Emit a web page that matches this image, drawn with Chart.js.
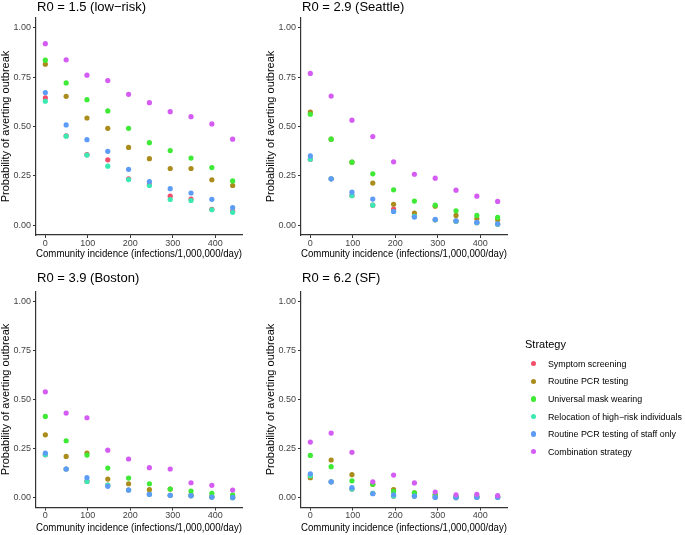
<!DOCTYPE html>
<html lang="en">
<head>
<meta charset="UTF-8">
<title>Probability of averting outbreak</title>
<style>
  body { margin: 0; background: #fff; font-family: "Liberation Sans", Arial, sans-serif; }
  #wrap { position: relative; width: 685px; height: 535px; overflow: hidden; }
  .panel { position: absolute; }
  .panel canvas { display: block; }
  #legendTitle { position: absolute; left: 525px; top: 338px; font-size: 11px; line-height: 13px; color: #000; }
  .item { position: absolute; left: 530.5px; height: 17.6px; display: flex; align-items: center; white-space: nowrap; font-size: 8.9px; color: #000; }
  .dot { width: 5.4px; height: 5.4px; border-radius: 50%; margin-right: 12px; }
</style>
</head>
<body>
<div id="wrap">
  <div class="panel" style="left:0;top:0"><canvas id="c1" width="262" height="260"></canvas></div>
  <div class="panel" style="left:265px;top:0"><canvas id="c2" width="262" height="260"></canvas></div>
  <div class="panel" style="left:0;top:265px"><canvas id="c3" width="262" height="270"></canvas></div>
  <div class="panel" style="left:265px;top:265px"><canvas id="c4" width="262" height="270"></canvas></div>
  <div id="legendTitle">Strategy</div>
  <div id="legend"></div>
</div>
<script src="https://cdn.jsdelivr.net/npm/chart.js"></script>
<script>
// community incidence (infections/1,000,000/day)
const incidence = [0, 49, 98, 147, 196, 245, 294, 343, 392, 441];
const xTicks = [0, 100, 200, 300, 400];
const yTicks = [0, 0.25, 0.5, 0.75, 1];

const strategies = ['Symptom screening', 'Routine PCR testing', 'Universal mask wearing',
  'Relocation of high\u2212risk individuals', 'Routine PCR testing of staff only', 'Combination strategy'];
const colors = ['#F24F6B', '#AA8C1C', '#3EEA36', '#3CE9B2', '#5C9CF7', '#D45CF2'];

// rows follow the strategies order
const r15 = [
  [0.645, 0.453, 0.357, 0.331, 0.235, 0.205, 0.147, 0.132, 0.080, 0.071],
  [0.816, 0.653, 0.543, 0.491, 0.394, 0.337, 0.287, 0.287, 0.230, 0.201],
  [0.836, 0.721, 0.636, 0.579, 0.491, 0.418, 0.378, 0.340, 0.292, 0.224],
  [0.628, 0.451, 0.355, 0.299, 0.231, 0.201, 0.130, 0.125, 0.078, 0.065],
  [0.672, 0.508, 0.433, 0.374, 0.283, 0.221, 0.185, 0.163, 0.131, 0.089],
  [0.920, 0.838, 0.760, 0.733, 0.663, 0.621, 0.575, 0.550, 0.513, 0.436]
];
const r29 = [
  [0.334, 0.235, 0.150, 0.101, 0.081, 0.044, 0.027, 0.020, 0.012, 0.005],
  [0.573, 0.436, 0.319, 0.213, 0.106, 0.061, 0.096, 0.049, 0.032, 0.027],
  [0.562, 0.436, 0.319, 0.260, 0.179, 0.122, 0.101, 0.073, 0.049, 0.039],
  [0.334, 0.235, 0.150, 0.101, 0.069, 0.044, 0.027, 0.020, 0.012, 0.005],
  [0.351, 0.235, 0.167, 0.132, 0.069, 0.041, 0.029, 0.022, 0.014, 0.007],
  [0.769, 0.654, 0.532, 0.449, 0.321, 0.258, 0.238, 0.177, 0.147, 0.120]
];
const r39 = [
  [0.219, 0.146, 0.083, 0.064, 0.039, 0.017, 0.012, 0.010, 0.003, 0.000],
  [0.320, 0.210, 0.227, 0.095, 0.071, 0.041, 0.044, 0.015, 0.005, 0.005],
  [0.414, 0.290, 0.217, 0.151, 0.100, 0.071, 0.044, 0.034, 0.022, 0.014],
  [0.219, 0.146, 0.083, 0.064, 0.039, 0.017, 0.012, 0.010, 0.003, 0.000],
  [0.227, 0.146, 0.102, 0.058, 0.039, 0.017, 0.012, 0.010, 0.003, 0.002],
  [0.539, 0.431, 0.407, 0.242, 0.197, 0.153, 0.146, 0.076, 0.063, 0.039]
];
const r62 = [
  [0.112, 0.081, 0.044, 0.022, 0.008, 0.008, 0.002, 0.000, 0.002, 0.002],
  [0.102, 0.192, 0.117, 0.068, 0.041, 0.024, 0.015, 0.005, 0.005, 0.003],
  [0.215, 0.158, 0.086, 0.069, 0.032, 0.024, 0.015, 0.005, 0.005, 0.003],
  [0.112, 0.081, 0.044, 0.022, 0.008, 0.008, 0.002, 0.000, 0.002, 0.002],
  [0.122, 0.081, 0.051, 0.020, 0.015, 0.008, 0.002, 0.002, 0.002, 0.002],
  [0.283, 0.329, 0.231, 0.081, 0.115, 0.075, 0.029, 0.015, 0.017, 0.010]
];

Chart.defaults.font.family = '"Liberation Sans", Arial, sans-serif';

// facet title, left aligned with the plot panel
const panelTitle = {
  id: 'panelTitle',
  afterDraw(chart, args, opts) {
    const c = chart.ctx;
    c.save();
    c.font = '13px "Liberation Sans", Arial, sans-serif';
    c.fillStyle = '#000';
    c.textBaseline = 'alphabetic';
    c.fillText(opts.text, chart.chartArea.left + 1, opts.baseline);
    c.restore();
  }
};

function makeChart(id, title, rows, g) {
  return new Chart(document.getElementById(id), {
    type: 'scatter',
    data: {
      datasets: strategies.map((name, i) => ({
        label: name,
        data: incidence.map((x, j) => ({ x: x, y: rows[i][j] })),
        backgroundColor: colors[i],
        borderWidth: 0,
        pointRadius: 2.6,
        pointHoverRadius: 2.6,
        order: strategies.length - i
      }))
    },
    options: {
      responsive: false,
      animation: false,
      events: [],
      layout: { padding: { top: g.padTop, right: 20, left: 0, bottom: 0 } },
      plugins: {
        legend: { display: false },
        tooltip: { enabled: false },
        panelTitle: { text: title, baseline: g.titleY }
      },
      scales: {
        x: {
          type: 'linear',
          min: -22,
          max: 463,
          afterFit: s => { s.height = g.xHeight; },
          afterBuildTicks: s => { s.ticks = xTicks.map(v => ({ value: v })); },
          grid: { drawOnChartArea: false, tickLength: 3, tickColor: '#333', tickWidth: 1 },
          border: { color: '#333', width: 1.2 },
          ticks: { padding: 0, color: '#444', font: { size: 9 }, maxRotation: 0, callback: v => String(v) },
          title: {
            display: true,
            text: 'Community incidence (infections/1,000,000/day)',
            color: '#000',
            font: { size: 11, lineHeight: 1 },
            padding: { top: 0, bottom: g.xTitlePad }
          }
        },
        y: {
          type: 'linear',
          min: -0.05,
          max: 1.05,
          afterFit: s => { s.width = 36; },
          afterBuildTicks: s => { s.ticks = yTicks.map(v => ({ value: v })); },
          grid: { drawOnChartArea: false, tickLength: 3, tickColor: '#333', tickWidth: 1 },
          border: { color: '#333', width: 1.2 },
          ticks: { padding: 2, color: '#444', font: { size: 9 }, callback: v => v.toFixed(2) },
          title: {
            display: true,
            text: 'Probability of averting outbreak',
            color: '#000',
            font: { size: 11, lineHeight: 1 },
            padding: 0
          }
        }
      }
    },
    plugins: [panelTitle]
  });
}

const topRow = { padTop: 18, xHeight: 25, xTitlePad: 1, titleY: 11 };
const bottomRow = { padTop: 26.5, xHeight: 27.5, xTitlePad: 2, titleY: 17 };

makeChart('c1', 'R0 = 1.5 (low\u2212risk)', r15, topRow);
makeChart('c2', 'R0 = 2.9 (Seattle)', r29, topRow);
makeChart('c3', 'R0 = 3.9 (Boston)', r39, bottomRow);
makeChart('c4', 'R0 = 6.2 (SF)', r62, bottomRow);

// legend
const legend = document.getElementById('legend');
strategies.forEach((name, i) => {
  const row = document.createElement('div');
  row.className = 'item';
  row.style.top = (355 + i * 17.6) + 'px';
  const dot = document.createElement('span');
  dot.className = 'dot';
  dot.style.background = colors[i];
  const txt = document.createElement('span');
  txt.textContent = name;
  row.appendChild(dot);
  row.appendChild(txt);
  legend.appendChild(row);
});
</script>
</body>
</html>
